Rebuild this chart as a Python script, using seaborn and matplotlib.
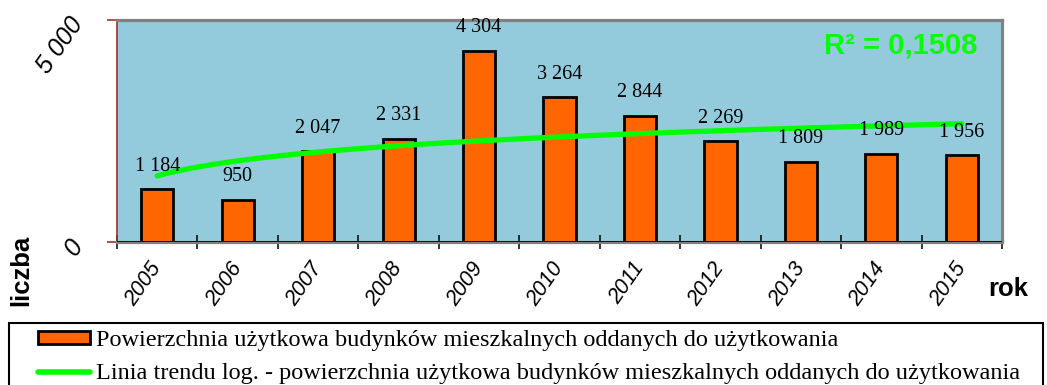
import numpy as np
import pandas as pd
import matplotlib
matplotlib.use("Agg")
import matplotlib.pyplot as plt
from matplotlib.patches import Patch, Rectangle
from matplotlib.lines import Line2D
import seaborn as sns

# Usable floor area of residential buildings completed per year
years = ["2005", "2006", "2007", "2008", "2009", "2010",
         "2011", "2012", "2013", "2014", "2015"]
area = [1184, 950, 2047, 2331, 4304, 3264, 2844, 2269, 1809, 1989, 1956]
value_labels = ["1 184", "950", "2 047", "2 331", "4 304", "3 264",
                "2 844", "2 269", "1 809", "1 989", "1 956"]
y_ticks = [0, 5000]
y_tick_labels = ["0", "5 000"]
r2_text = "R² = 0,1508"
bar_legend = "Powierzchnia użytkowa budynków mieszkalnych oddanych do użytkowania"
trend_legend = ("Linia trendu log. - powierzchnia użytkowa budynków "
                "mieszkalnych oddanych do użytkowania")

BAR_COLOR = "#FF6600"
TREND_COLOR = "#00FF00"
BG_COLOR = "#93CBDC"
AXIS_RED = "#993333"

sns.set_theme(style="white")
plt.rcParams["font.family"] = ["Liberation Sans", "DejaVu Sans"]
plt.rcParams["text.color"] = "black"

W, H = 1047, 385
fig = plt.figure(figsize=(W / 100, H / 100), dpi=100)
ax = fig.add_axes([117 / W, 1 - 242 / H, (1002 - 117) / W, (242 - 20) / H])
ax.set_facecolor(BG_COLOR)

df = pd.DataFrame({"rok": years, "liczba": area})
sns.barplot(data=df, x="rok", y="liczba", color=BAR_COLOR, width=0.4,
            edgecolor="black", linewidth=2, saturation=1, ax=ax, zorder=2)

# Logarithmic trend line fitted over x = 1..n
xs = np.arange(1, len(area) + 1)
slope, intercept = np.polyfit(np.log(xs), np.array(area, dtype=float), 1)
t = np.linspace(1, len(area), 200)
trend = pd.DataFrame({"pos": t - 1, "val": intercept + slope * np.log(t)})
sns.lineplot(data=trend, x="pos", y="val", color=TREND_COLOR, linewidth=3.8,
             ax=ax, zorder=3)

for i, (v, lab) in enumerate(zip(area, value_labels)):
    ax.annotate(lab, (i, v), xytext=(0, 23), textcoords="offset pixels",
                ha="center", va="center", fontsize=14.5,
                family="Liberation Serif", color="black", zorder=4)

ax.text(0.972, 0.885, r2_text, transform=ax.transAxes, ha="right", va="center",
        fontsize=21, fontweight="bold", color=TREND_COLOR)

ax.set_xlim(-0.5, len(years) - 0.5)
ax.set_ylim(0, 5000)
ax.set_xlabel("")
ax.set_ylabel("")

# Category labels centered, tick marks at category boundaries
ax.set_xticks(range(len(years)))
ax.set_xticklabels(years, rotation=55, ha="right", va="center",
                   rotation_mode="anchor", fontsize=15.5, style="italic",
                   color="black")
ax.tick_params(axis="x", which="major", length=0, pad=16)
ax.set_xticks(np.arange(-0.5, len(years), 1), minor=True)
ax.tick_params(axis="x", which="minor", direction="inout", length=10,
               width=1.1, color="black", bottom=True)

ax.set_yticks(y_ticks)
ax.set_yticklabels(y_tick_labels, rotation=55, ha="right", va="center",
                   rotation_mode="anchor", fontsize=18, style="italic",
                   color="black")
ax.tick_params(axis="y", which="major", direction="out", length=7, width=1.2,
               color=AXIS_RED, left=True, pad=21)

for side in ("top", "right"):
    ax.spines[side].set_color("#808080")
    ax.spines[side].set_linewidth(2.3)
ax.spines["left"].set_color(AXIS_RED)
ax.spines["left"].set_linewidth(1.2)
ax.spines["bottom"].set_color("#808080")
ax.spines["bottom"].set_linewidth(2.3)
ax.axhline(0, color="black", linewidth=1.2, zorder=5)

fig.text(21 / W, 1 - 270 / H, "liczba", rotation=90, ha="center", va="center",
         fontsize=18.5, fontweight="bold", color="black")
fig.text(1008 / W, 1 - 289 / H, "rok", ha="center", va="center",
         fontsize=18.5, fontweight="bold", color="black")

# Legend box below the chart
fig.patches.append(Rectangle((9 / W, -0.1), (1043 - 9) / W, 1 - 323 / H + 0.1,
                             transform=fig.transFigure, facecolor="white",
                             edgecolor="black", linewidth=1.5))
handles = [Patch(facecolor=BAR_COLOR, edgecolor="black", linewidth=2),
           Line2D([0], [0], color=TREND_COLOR, linewidth=4)]
fig.legend(handles, [bar_legend, trend_legend], loc="upper left",
           bbox_to_anchor=(38 / W, 1 - 330 / H), frameon=False,
           prop={"family": "Liberation Serif", "size": 17.5},
           handlelength=2.15, handleheight=0.45, handletextpad=0.25,
           labelspacing=0.5, borderpad=0, borderaxespad=0)

fig.savefig("out.png", dpi=100)
